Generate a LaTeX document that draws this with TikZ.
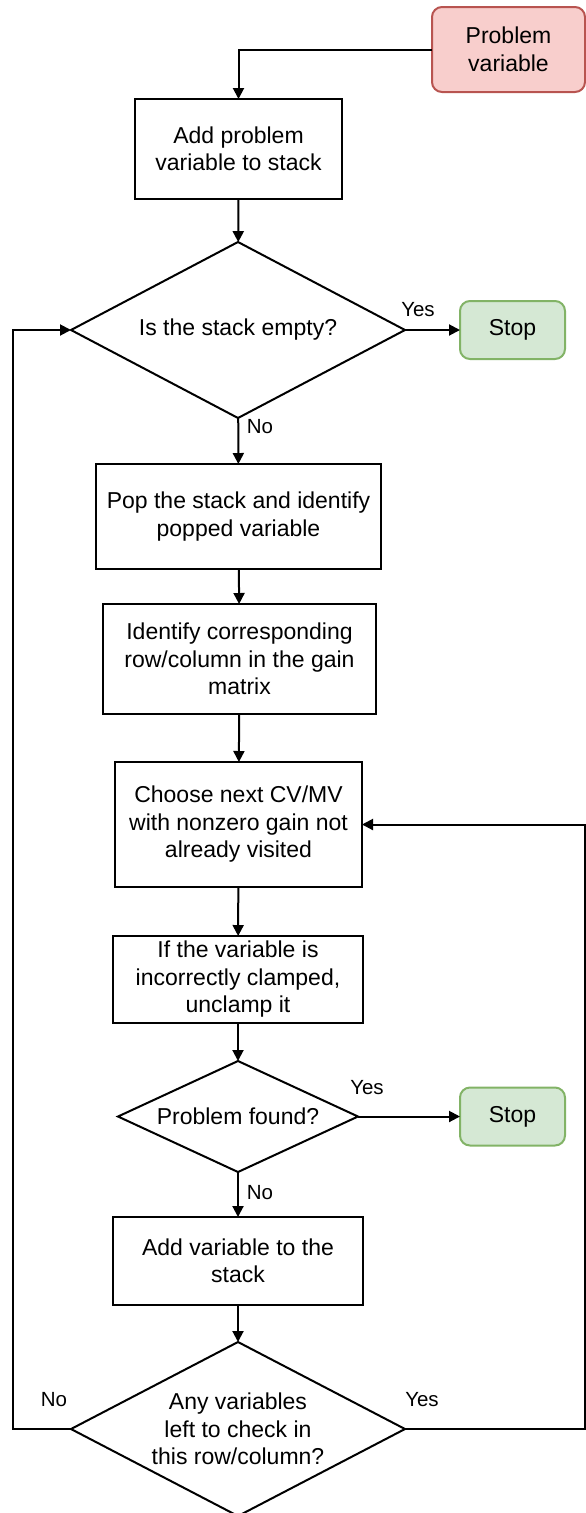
\documentclass[tikz,border=0pt]{standalone}
\usepackage{fontspec}
\setmainfont{Liberation Sans}
\usetikzlibrary{shapes.geometric,arrows.meta}
\definecolor{redfill}{HTML}{F8CECC}
\definecolor{redline}{HTML}{B85450}
\definecolor{greenfill}{HTML}{D5E8D4}
\definecolor{greenline}{HTML}{82B366}

\begin{document}
\begin{tikzpicture}[x=1pt,y=-1pt,
  every node/.style={font=\fontsize{23}{27.5}\selectfont},
  box/.style={draw, line width=2pt, rectangle, align=center, inner sep=0pt, outer sep=0pt},
  startbox/.style={box, rounded corners=10pt, fill=redfill, draw=redline},
  stopbox/.style={box, rounded corners=10pt, fill=greenfill, draw=greenline,
                  minimum width=105pt, minimum height=58pt},
  decision/.style={draw, line width=2pt, diamond, align=center, inner sep=0pt, outer sep=0pt},
  flow/.style={line width=2pt, -{Triangle[length=11pt,width=11pt]}},
  lbl/.style={inner sep=0pt, font=\fontsize{20.5}{24}\selectfont}
]
\useasboundingbox (0,0) rectangle (586,1513);

% process steps
\node[startbox, minimum width=153pt, minimum height=85pt] (pv) at (508.5,49.5) {Problem\\variable};
\node[box, minimum width=207pt, minimum height=100pt] (add) at (238.5,149) {Add problem\\variable to stack};
\node[decision, minimum width=334pt, minimum height=176pt, aspect=1.9] (empty) at (238,330) {Is the stack empty?};
\node[stopbox] (stop1) at (512.5,330) {Stop};
\node[box, minimum width=285pt, minimum height=105pt] (pop) at (238.5,516.5) {Pop the stack and identify\\popped variable};
\node[box, minimum width=273pt, minimum height=110pt] (ident) at (239.5,659) {Identify corresponding\\row/column in the gain\\matrix};
\node[box, minimum width=247pt, minimum height=125pt] (choose) at (238.5,824.5) {Choose next CV/MV\\with nonzero gain not\\already visited};
\node[box, minimum width=250pt, minimum height=87pt] (clamp) at (238,979.5) {If the variable is\\incorrectly clamped,\\unclamp it};
\node[decision, minimum width=240pt, minimum height=111pt, aspect=2.16] (found) at (238,1116.5) {Problem found?};
\node[stopbox] (stop2) at (512.5,1116.5) {Stop};
\node[box, minimum width=250pt, minimum height=88pt] (addvar) at (238,1261) {Add variable to the\\stack};
\node[decision, minimum width=334pt, minimum height=174pt, aspect=1.92] (more) at (238,1429) {Any variables\\left to check in\\this row/column?};

% loop-back rails
\coordinate (railL) at (13,0);
\coordinate (railR) at (585,0);

% connectors
\draw[flow] (pv.west) -| (add.north);
\draw[flow] (add) -- (empty);
\draw[flow] (empty.east) -- (stop1.west);
\draw[flow] (empty) -- (pop);
\draw[flow] (pop) -- (ident);
\draw[flow] (ident) -- (choose);
\draw[flow] (choose) -- (clamp);
\draw[flow] (clamp) -- (found);
\draw[flow] (found.east) -- (stop2.west);
\draw[flow] (found) -- (addvar);
\draw[flow] (addvar) -- (more);
\draw[flow] (more.west) -- (more.west -| railL) |- (empty.west);
\draw[flow] (more.east) -- (more.east -| railR) |- (choose.east);

% branch labels
\node[lbl] (y1) at (418,310) {Yes};
\node[lbl] (n1) at (260,427) {No};
\node[lbl] (y2) at (367,1088) {Yes};
\node[lbl] (n2) at (260,1193) {No};
\node[lbl] (n3) at (54,1400) {No};
\node[lbl] (y3) at (422,1400) {Yes};
\end{tikzpicture}
\end{document}
